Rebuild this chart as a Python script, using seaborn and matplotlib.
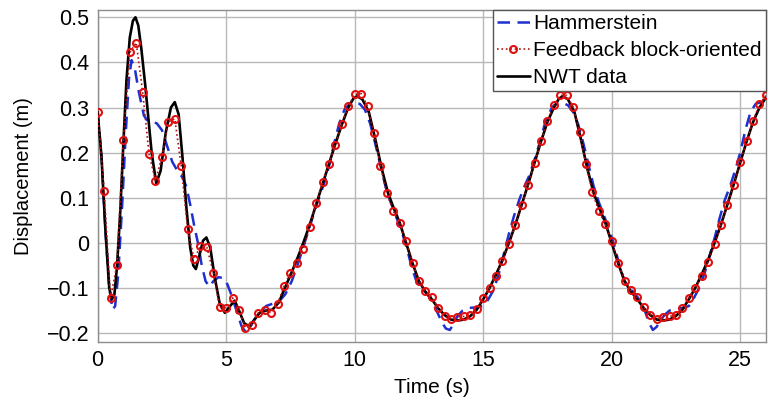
import numpy as np
import pandas as pd
import matplotlib
matplotlib.use("Agg")
import matplotlib.pyplot as plt
import seaborn as sns

# - NWT data (black, solid) -
nwt_time = [0.00, 0.15, 0.30, 0.45, 0.55, 0.65, 0.75, 0.88, 1.00, 1.12, 1.25, 1.37, 1.47, 1.58,
            1.70, 1.85, 1.95, 2.10, 2.28, 2.45, 2.65, 2.85, 3.00, 3.15, 3.30, 3.45, 3.60, 3.72,
            3.82, 3.95, 4.10, 4.23, 4.38, 4.55, 4.75, 4.95, 5.15, 5.33, 5.50, 5.70, 5.90, 6.10,
            6.30, 6.55, 6.80, 7.05, 7.30, 7.55, 7.80, 8.00, 8.25, 8.50, 8.75, 9.00, 9.25, 9.50,
            9.75, 9.95, 10.10, 10.30, 10.55, 10.80, 11.05, 11.30, 11.50, 11.75, 12.00, 12.25,
            12.50, 12.75, 13.00, 13.25, 13.50, 13.75, 14.00, 14.25, 14.50, 14.75, 15.00, 15.25,
            15.50, 15.75, 16.00, 16.25, 16.50, 16.75, 17.00, 17.25, 17.50, 17.75, 17.95, 18.10,
            18.30, 18.55, 18.80, 19.05, 19.30, 19.50, 19.75, 20.00, 20.25, 20.50, 20.75, 21.00,
            21.25, 21.50, 21.75, 22.00, 22.25, 22.50, 22.75, 23.00, 23.25, 23.50, 23.75, 24.00,
            24.25, 24.50, 24.75, 25.00, 25.25, 25.50, 25.75, 26.00]
nwt_disp = [0.290, 0.190, 0.030, -0.100, -0.125, -0.115, -0.055, 0.070, 0.220, 0.360, 0.455, 0.492,
            0.500, 0.482, 0.430, 0.350, 0.290, 0.200, 0.132, 0.160, 0.245, 0.300, 0.312, 0.285,
            0.190, 0.080, -0.010, -0.050, -0.058, -0.030, 0.005, 0.012, -0.010, -0.075, -0.135,
            -0.155, -0.140, -0.128, -0.150, -0.178, -0.185, -0.170, -0.155, -0.150, -0.148, -0.132,
            -0.098, -0.065, -0.030, 0.000, 0.040, 0.085, 0.130, 0.175, 0.220, 0.262, 0.300, 0.320,
            0.325, 0.318, 0.290, 0.230, 0.165, 0.110, 0.080, 0.045, 0.000, -0.045, -0.085, -0.108,
            -0.125, -0.145, -0.160, -0.170, -0.172, -0.170, -0.162, -0.148, -0.125, -0.100, -0.070,
            -0.038, 0.000, 0.040, 0.085, 0.130, 0.178, 0.225, 0.268, 0.300, 0.320, 0.325, 0.318,
            0.290, 0.230, 0.165, 0.110, 0.080, 0.045, 0.000, -0.045, -0.085, -0.108, -0.125,
            -0.145, -0.160, -0.170, -0.172, -0.170, -0.162, -0.148, -0.125, -0.100, -0.070,
            -0.038, 0.000, 0.040, 0.085, 0.130, 0.178, 0.225, 0.268, 0.300, 0.322]

# - Hammerstein model (blue, dashed) -
ham_time = [0.00, 0.15, 0.30, 0.45, 0.58, 0.68, 0.80, 0.95, 1.10, 1.22, 1.32, 1.45, 1.60, 1.80,
            1.95, 2.10, 2.30, 2.50, 2.70, 2.90, 3.10, 3.30, 3.45, 3.60, 3.75, 3.90, 4.05, 4.20,
            4.35, 4.50, 4.70, 4.90, 5.05, 5.20, 5.40, 5.60, 5.75, 5.90, 6.10, 6.30, 6.55, 6.80,
            7.05, 7.30, 7.55, 7.80, 8.05, 8.30, 8.55, 8.80, 9.00, 9.20, 9.40, 9.60, 9.80, 10.00,
            10.20, 10.40, 10.60, 10.80, 11.00, 11.20, 11.40, 11.60, 11.80, 12.00, 12.20, 12.40,
            12.60, 12.80, 13.00, 13.20, 13.40, 13.55, 13.70, 13.85, 14.00, 14.20, 14.45, 14.75,
            15.00, 15.20, 15.40, 15.60, 15.80, 16.00, 16.20, 16.40, 16.60, 16.80, 17.00, 17.20,
            17.45, 17.70, 17.90, 18.10, 18.30, 18.50, 18.70, 18.90, 19.10, 19.30, 19.50, 19.70,
            19.90, 20.10, 20.30, 20.50, 20.70, 20.90, 21.10, 21.30, 21.45, 21.60, 21.75, 21.90,
            22.05, 22.25, 22.50, 22.80, 23.00, 23.20, 23.40, 23.60, 23.80, 24.00, 24.20, 24.40,
            24.60, 24.80, 25.00, 25.20, 25.40, 25.60, 25.80, 26.00]
ham_disp = [0.290, 0.190, 0.030, -0.100, -0.148, -0.140, -0.070, 0.080, 0.250, 0.365, 0.405,
            0.385, 0.335, 0.282, 0.270, 0.268, 0.265, 0.250, 0.215, 0.180, 0.160, 0.145, 0.125,
            0.085, 0.040, 0.000, -0.050, -0.085, -0.097, -0.085, -0.076, -0.078, -0.092, -0.115,
            -0.150, -0.185, -0.197, -0.190, -0.170, -0.155, -0.140, -0.135, -0.130, -0.114,
            -0.085, -0.045, 0.000, 0.045, 0.090, 0.130, 0.170, 0.220, 0.265, 0.295, 0.308, 0.310,
            0.308, 0.295, 0.265, 0.220, 0.172, 0.125, 0.090, 0.060, 0.030, -0.005, -0.050, -0.085,
            -0.100, -0.112, -0.128, -0.152, -0.177, -0.190, -0.193, -0.180, -0.162, -0.150,
            -0.144, -0.143, -0.140, -0.125, -0.105, -0.070, -0.025, 0.020, 0.060, 0.095, 0.125,
            0.150, 0.185, 0.222, 0.275, 0.302, 0.310, 0.310, 0.305, 0.290, 0.262, 0.220, 0.172,
            0.125, 0.090, 0.060, 0.030, -0.005, -0.050, -0.085, -0.100, -0.112, -0.128, -0.152,
            -0.177, -0.193, -0.186, -0.172, -0.160, -0.150, -0.146, -0.144, -0.140, -0.122,
            -0.100, -0.070, -0.030, 0.010, 0.055, 0.095, 0.125, 0.160, 0.200, 0.250, 0.290,
            0.308, 0.312, 0.310]

# - Feedback block-oriented model (red circles, dotted), sampled every 0.25 s -
fb_step = 0.25
fb_disp = [0.290, 0.116, -0.122, -0.048, 0.227, 0.422, 0.444, 0.335, 0.196, 0.138, 0.191, 0.268,
           0.275, 0.171, 0.030, -0.035, -0.008, -0.010, -0.066, -0.143, -0.144, -0.122, -0.148,
           -0.189, -0.181, -0.155, -0.148, -0.155, -0.135, -0.096, -0.066, -0.044, -0.014, 0.035,
           0.088, 0.134, 0.175, 0.218, 0.263, 0.303, 0.329, 0.331, 0.303, 0.244, 0.171, 0.110,
           0.071, 0.043, 0.004, -0.044, -0.085, -0.106, -0.120, -0.144, -0.163, -0.168, -0.164,
           -0.163, -0.159, -0.146, -0.122, -0.100, -0.074, -0.040, -0.003, 0.040, 0.084, 0.129,
           0.176, 0.225, 0.270, 0.305, 0.327, 0.327, 0.301, 0.245, 0.175, 0.112, 0.070, 0.041,
           0.004, -0.044, -0.085, -0.105, -0.121, -0.143, -0.159, -0.168, -0.165, -0.163, -0.159,
           -0.144, -0.122, -0.100, -0.074, -0.043, -0.003, 0.040, 0.084, 0.129, 0.179, 0.226,
           0.270, 0.307, 0.327]
fb_time = np.arange(len(fb_disp)) * fb_step

x_ticks = [0, 5, 10, 15, 20, 25]
y_ticks = [-0.2, -0.1, 0, 0.1, 0.2, 0.3, 0.4, 0.5]
y_tick_labels = ["\u22120.2", "\u22120.1", "0", "0.1", "0.2", "0.3", "0.4", "0.5"]

ham_df = pd.DataFrame({"Time": ham_time, "Disp": ham_disp})
fb_df = pd.DataFrame({"Time": fb_time, "Disp": fb_disp})
nwt_df = pd.DataFrame({"Time": nwt_time, "Disp": nwt_disp})

sns.set_style("whitegrid")
plt.rcParams["font.family"] = ["Liberation Sans", "DejaVu Sans"]
plt.rcParams["font.size"] = 15
plt.rcParams["text.color"] = "black"
plt.rcParams["axes.labelcolor"] = "black"
plt.rcParams["xtick.color"] = "black"
plt.rcParams["ytick.color"] = "black"

fig = plt.figure(figsize=(7.69, 4.03), dpi=100)
ax = fig.add_axes([0.127, 0.151, 0.869, 0.824])

sns.lineplot(data=ham_df, x="Time", y="Disp", ax=ax, color="#1f2fd0", linestyle=(0, (5, 3)),
             linewidth=1.8, label="Hammerstein", zorder=2, sort=False, estimator=None)
sns.lineplot(data=fb_df, x="Time", y="Disp", ax=ax, color="#b01010", linestyle=":",
             linewidth=1.2, marker="o", markersize=5, markerfacecolor="none",
             markeredgecolor="#e01010", markeredgewidth=1.5,
             label="Feedback block-oriented", zorder=4, sort=False, estimator=None)
sns.lineplot(data=nwt_df, x="Time", y="Disp", ax=ax, color="black", linewidth=1.9,
             label="NWT data", zorder=3, sort=False, estimator=None)

ax.set_xlim(0, 26)
ax.set_ylim(-0.22, 0.516)
ax.set_xticks(x_ticks)
ax.set_yticks(y_ticks)
ax.set_yticklabels(y_tick_labels)
ax.tick_params(length=0, pad=6, labelsize=15.5)
ax.grid(True, color="#b8b8b8", linewidth=1.0)
for s in ax.spines.values():
    s.set_color("#8c8c8c")
    s.set_linewidth(1.0)
ax.set_xlabel("Time (s)", fontsize=15, labelpad=5)
ax.set_ylabel("Displacement (m)", fontsize=14.5, labelpad=10)

leg = ax.legend(loc="upper right", fontsize=15, frameon=True, fancybox=False, framealpha=1,
                edgecolor="#555555", borderaxespad=0, borderpad=0.2, labelspacing=0.38,
                handlelength=1.6, handletextpad=0.15)
leg.get_frame().set_linewidth(1.0)

plt.savefig("out.png", dpi=100)
plt.close()
